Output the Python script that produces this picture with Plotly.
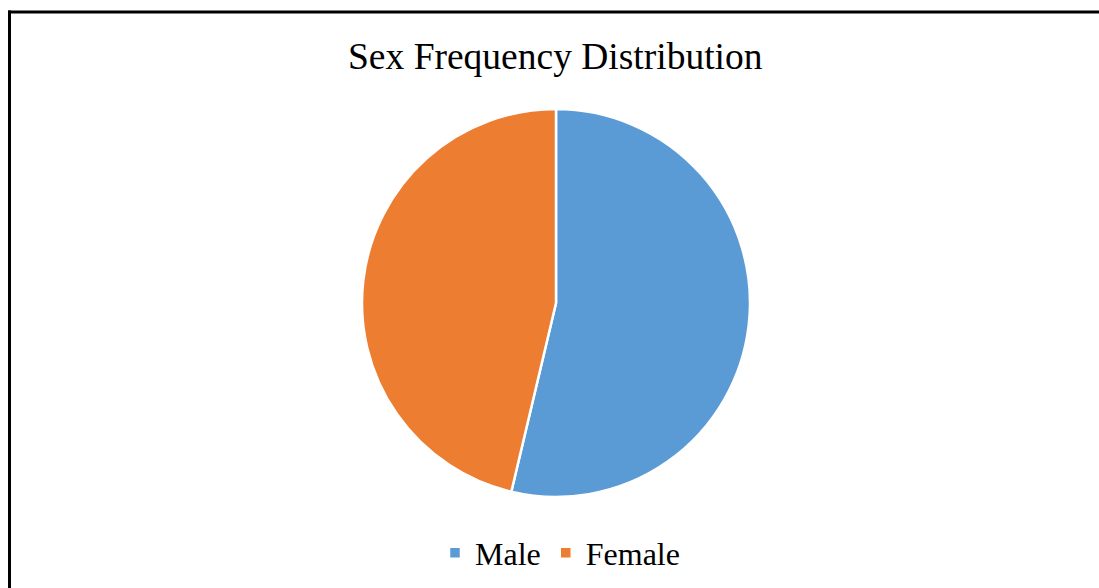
import plotly.graph_objects as go

labels = ["Male", "Female"]
values = [53.7, 46.3]
colors = ["#5B9BD5", "#ED7D31"]

W, H = 1099, 588

def py(y):  # screen y (from top) -> paper fraction
    return (H - y) / H

def px(x):
    return x / W

fig = go.Figure(go.Pie(
    labels=labels,
    values=values,
    sort=False,
    direction="clockwise",
    rotation=0,
    marker=dict(colors=colors, line=dict(color="white", width=2.5)),
    textinfo="none",
    hoverinfo="label+value",
    domain=dict(x=[px(556) - 0.2, px(556) + 0.2], y=[py(497), py(109)]),
))

serif = "Liberation Serif, Times New Roman, serif"
fig.update_layout(
    width=W, height=H,
    margin=dict(l=0, r=0, t=0, b=0),
    paper_bgcolor="white",
    plot_bgcolor="white",
    font=dict(family=serif, color="black"),
    showlegend=True,
    legend=dict(
        orientation="h", x=px(560), xanchor="center", y=py(553), yanchor="middle",
        font=dict(size=32, family=serif),
        itemwidth=30,
    ),
    annotations=[dict(
        text="Sex Frequency Distribution", x=px(555.5), y=py(56),
        xref="paper", yref="paper", xanchor="center", yanchor="middle",
        showarrow=False, font=dict(size=37.5, family=serif),
    )],
    shapes=[
        dict(type="line", xref="paper", yref="paper",
             x0=px(8), x1=1.0, y0=py(12), y1=py(12),
             line=dict(color="black", width=3), layer="below"),
        dict(type="line", xref="paper", yref="paper",
             x0=px(9.5), x1=px(9.5), y0=0.0, y1=py(10.5),
             line=dict(color="black", width=3), layer="below"),
    ],
)

fig.write_html(
    "out.html",
    config={"displayModeBar": False},
    post_script="document.body.style.margin='0';document.body.style.overflow='hidden';",
)
